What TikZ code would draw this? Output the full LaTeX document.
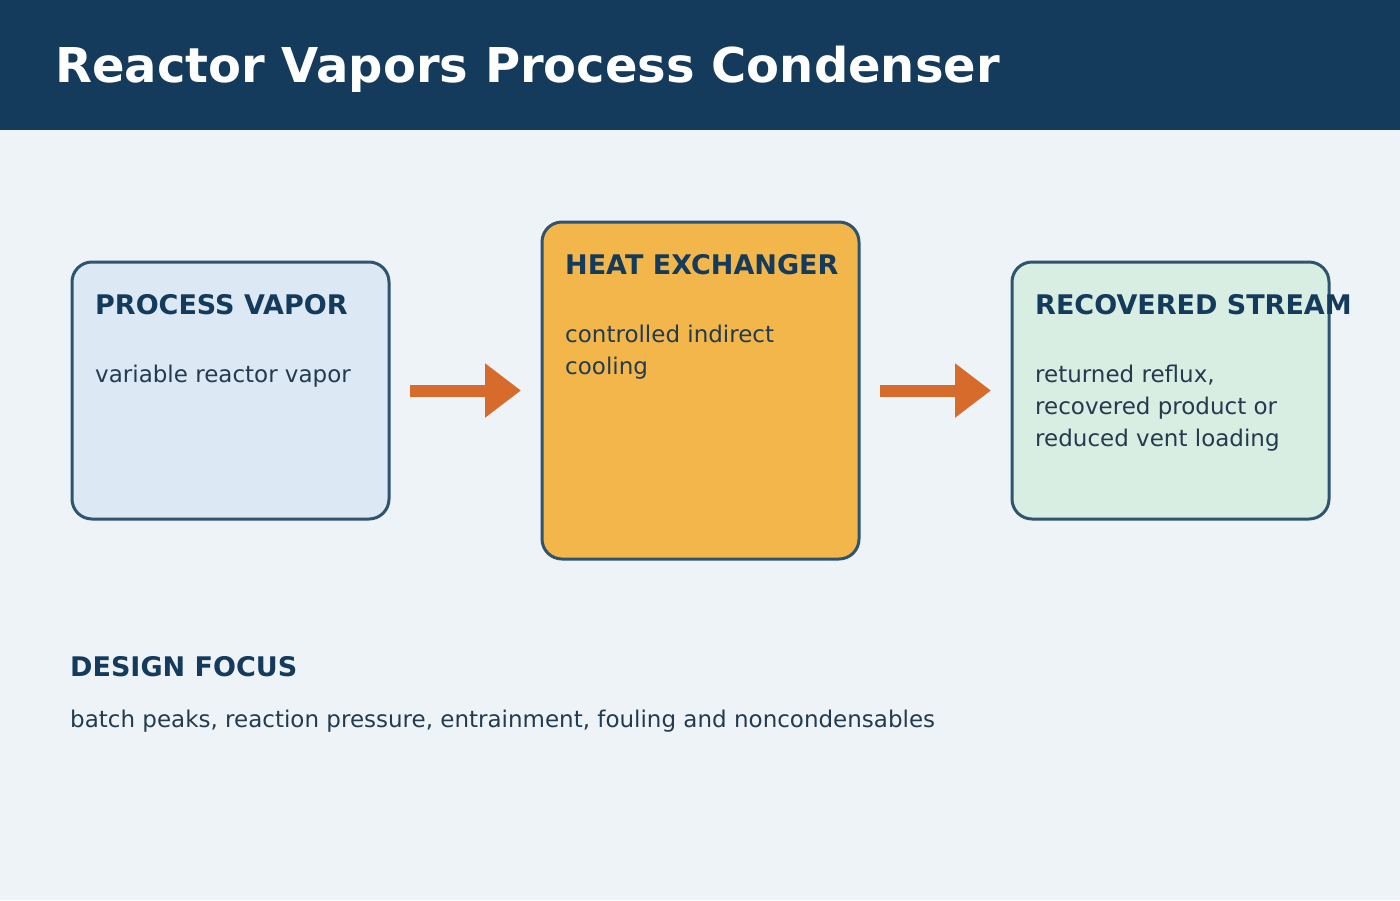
\documentclass[tikz,border=0pt]{standalone}
\usepackage{fontspec}
\setmainfont{DejaVu Sans}
\usetikzlibrary{arrows.meta}
\definecolor{bg}{HTML}{EEF3F7}
\definecolor{titlebar}{HTML}{143A5C}
\definecolor{border}{HTML}{2F5470}
\definecolor{headc}{HTML}{143A5C}
\definecolor{bodyc}{HTML}{243B4F}
\definecolor{fillA}{HTML}{DCE9F4}
\definecolor{fillB}{HTML}{F2B64A}
\definecolor{fillC}{HTML}{D8EEE2}
\definecolor{arrowc}{HTML}{D66B2C}
\tikzset{
  stagebox/.style={draw=border, line width=3pt, rounded corners=20pt, minimum width=317pt, inner sep=0pt, outer sep=0pt},
  headtxt/.style={anchor=base west, inner sep=0pt, text=headc, font=\fontsize{27}{32}\selectfont\bfseries},
  bodytxt/.style={anchor=base west, inner sep=0pt, text=bodyc, align=left, font=\fontsize{23}{32}\selectfont},
  flow/.style={draw=arrowc, line width=12pt, -{Triangle[length=36pt, width=52pt]}}
}
\begin{document}
\begin{tikzpicture}[x=1pt,y=-1pt]
\fill[bg] (0,0) rectangle (1400,900);
\useasboundingbox (0,0) rectangle (1400,900);
\fill[titlebar] (0,0) rectangle (1400,130);
\node[anchor=base west, inner sep=0pt, text=white, font=\fontsize{48}{56}\selectfont\bfseries] (title) at (55,82) {Reactor Vapors Process Condenser};

\node[stagebox, fill=fillA, minimum height=257pt, anchor=north west] (vapor) at (72,262) {};
\node[stagebox, fill=fillB, minimum height=337pt, anchor=north west] (hx) at (542,222) {};
\node[stagebox, fill=fillC, minimum height=257pt, anchor=north west] (rec) at (1012,262) {};

\node[headtxt] (vaporh) at (95,314) {PROCESS VAPOR};
\node[bodytxt] (vaporb) at (95,382) {variable reactor vapor};
\node[headtxt] (hxh) at (565,274) {HEAT EXCHANGER};
\node[bodytxt] (hxb) at (565,374) {controlled indirect\\cooling};
\node[headtxt] (rech) at (1035,314) {RECOVERED STREAM};
\node[bodytxt] (recb) at (1035,446) {returned reflux,\\recovered product or\\reduced vent loading};

\draw[flow] ([xshift=21pt]vapor.east) -- ([xshift=-21pt]hx.west);
\draw[flow] ([xshift=21pt]hx.east) -- ([xshift=-21pt]rec.west);

\node[headtxt] (focush) at (70,676) {DESIGN FOCUS};
\node[bodytxt] (focusb) at (70,727) {batch peaks, reaction pressure, entrainment, fouling and noncondensables};
\end{tikzpicture}
\end{document}
